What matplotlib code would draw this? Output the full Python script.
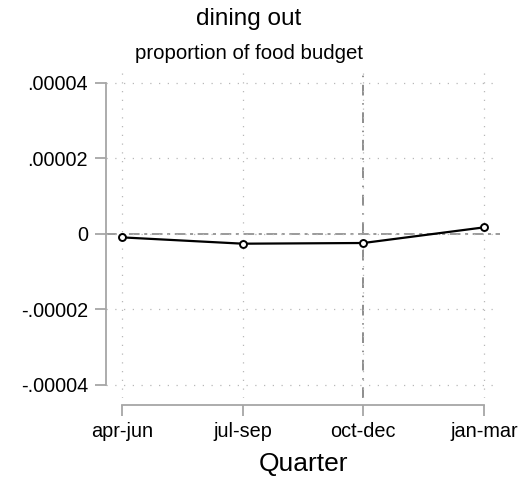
import numpy as np
import matplotlib
matplotlib.use("Agg")
import matplotlib.pyplot as plt

plt.rcParams['font.family'] = ['Liberation Sans', 'DejaVu Sans']

quarters = ['apr-jun', 'jul-sep', 'oct-dec', 'jan-mar']
share = [-0.9e-6, -2.57e-6, -2.39e-6, 1.75e-6]
yticks = [-0.00004, -0.00002, 0, 0.00002, 0.00004]
ytick_labels = ['-.00004', '-.00002', '0', '.00002', '.00004']

x = np.arange(1, len(quarters) + 1)

fig = plt.figure(figsize=(5.23, 4.78), dpi=100)
ax = fig.add_axes([0.2027, 0.1674, 0.7533, 0.6862])

grey = '#a6a6a6'
ax.grid(True, color='#b8b8b8', linestyle=(0, (1, 6)), linewidth=0.9)
ax.axhline(0, color='#7f7f7f', linestyle=(0, (7, 3, 2, 3)), linewidth=1.1, zorder=1)
ax.axvline(3, color='#6f6f6f', linestyle=(0, (7, 5, 1, 5)), linewidth=1.1, zorder=1)

ax.plot(x, share, color='black', linewidth=1.6, marker='o', markersize=5,
        markerfacecolor='white', markeredgecolor='black', markeredgewidth=1.4, zorder=3)

ax.set_xlim(0.867, 4.133)
ax.set_ylim(-4.344e-5, 4.344e-5)
ax.set_xticks(x)
ax.set_xticklabels(quarters)
ax.set_yticks(yticks)
ax.set_yticklabels(ytick_labels)

for s in ['top', 'right']:
    ax.spines[s].set_visible(False)
ax.spines['left'].set_color(grey)
ax.spines['bottom'].set_color(grey)
ax.spines['left'].set_linewidth(1.3)
ax.spines['bottom'].set_linewidth(1.3)
ax.spines['left'].set_bounds(-0.00004, 0.00004)
ax.spines['bottom'].set_bounds(1, 4)
ax.spines['bottom'].set_position(('outward', 5))

ax.tick_params(axis='both', colors=grey, labelcolor='black', length=8, width=1.3)
ax.tick_params(axis='y', pad=5, labelsize=14.3)
ax.tick_params(axis='x', pad=4, labelsize=14.3)

ax.set_xlabel('Quarter', fontsize=19, labelpad=8)

fig.text(0.476, 0.960, 'dining out', ha='center', va='center', fontsize=17.5)
fig.text(0.476, 0.889, 'proportion of food budget', ha='center', va='center', fontsize=14.7)

fig.savefig('out.png', dpi=100)
